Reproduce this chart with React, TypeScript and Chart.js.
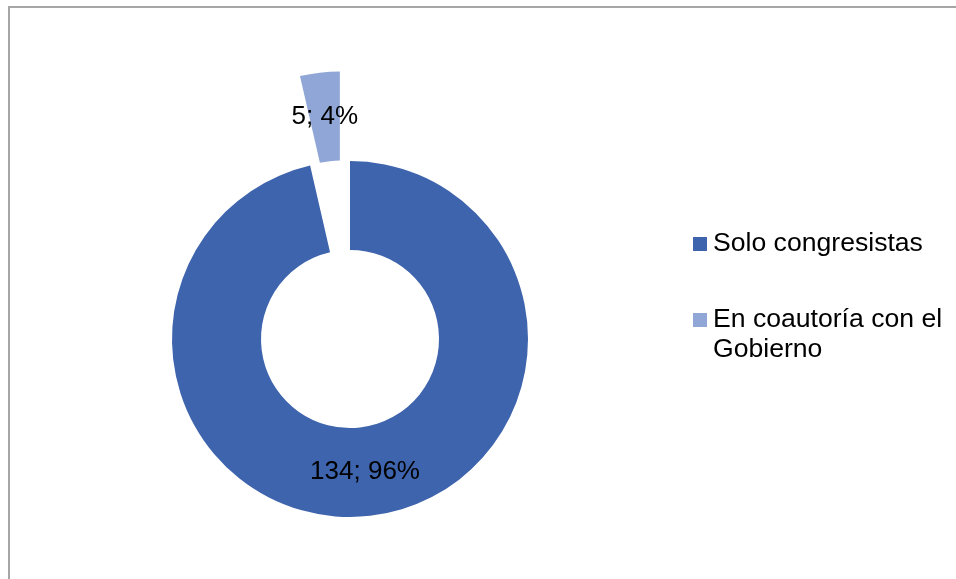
import React, { useEffect, useRef } from "react";
import { Chart, registerables } from "chart.js";

Chart.register(...registerables);

const categories = ["Solo congresistas", "En coautoría con el Gobierno"];
const values = [134, 5];
const colors = ["#3E64AD", "#8FA6D6"];
const explode = [0, 90];

const FONT = "'Liberation Sans', Arial, sans-serif";

const explodePlugin = {
  id: "explodeSlices",
  afterDatasetUpdate(chart: any, args: any) {
    const meta = args.meta;
    meta.data.forEach((el: any, i: number) => {
      const d = explode[i] || 0;
      if (!d) return;
      const mid = (el.startAngle + el.endAngle) / 2;
      el.x += Math.cos(mid) * d;
      el.y += Math.sin(mid) * d;
    });
  },
};

const labelPlugin = {
  id: "sliceLabels",
  afterDatasetsDraw(chart: any) {
    const ctx = chart.ctx;
    const meta = chart.getDatasetMeta(0);
    const data = chart.data.datasets[0].data as number[];
    const total = data.reduce((a, b) => a + b, 0);
    ctx.save();
    ctx.font = `26px ${FONT}`;
    ctx.fillStyle = "#000000";
    ctx.textAlign = "center";
    ctx.textBaseline = "middle";
    meta.data.forEach((el: any, i: number) => {
      const mid = (el.startAngle + el.endAngle) / 2;
      const r = (el.innerRadius + el.outerRadius) / 2;
      const x = el.x + Math.cos(mid) * r;
      const y = el.y + Math.sin(mid) * r;
      ctx.fillText(`${data[i]}; ${Math.round((data[i] / total) * 100)}%`, x, y);
    });
    ctx.restore();
  },
};

const legendPlugin = {
  id: "sideLegend",
  afterDraw(chart: any) {
    const ctx = chart.ctx;
    const labels = chart.data.labels as string[];
    const bg = chart.data.datasets[0].backgroundColor as string[];
    const boxX = 683;
    const textX = 703;
    const maxW = 238;
    const lineH = 30;
    const baselines = [243, 319];
    ctx.save();
    ctx.font = `26.6px ${FONT}`;
    ctx.textAlign = "left";
    ctx.textBaseline = "alphabetic";
    labels.forEach((label, i) => {
      const words = label.split(" ");
      const lines: string[] = [];
      let cur = "";
      words.forEach((w) => {
        const test = cur ? cur + " " + w : w;
        if (ctx.measureText(test).width > maxW && cur) {
          lines.push(cur);
          cur = w;
        } else {
          cur = test;
        }
      });
      if (cur) lines.push(cur);
      const base = baselines[i];
      ctx.fillStyle = bg[i];
      ctx.fillRect(boxX, base - 14, 14, 14);
      ctx.fillStyle = "#000000";
      lines.forEach((ln, j) => ctx.fillText(ln, textX, base + j * lineH));
    });
    ctx.restore();
  },
};

export default function App() {
  const ref = useRef<HTMLCanvasElement | null>(null);
  useEffect(() => {
    if (!ref.current) return;
    const chart = new Chart(ref.current, {
      type: "doughnut",
      data: {
        labels: categories,
        datasets: [
          {
            data: values,
            backgroundColor: colors,
            borderWidth: 0,
          },
        ],
      },
      options: {
        responsive: false,
        animation: false,
        events: [],
        cutout: "50%",
        layout: { padding: { top: 153, bottom: 62, left: 162, right: 428 } },
        plugins: {
          legend: { display: false },
          tooltip: { enabled: false },
          title: { display: false },
        },
      },
      plugins: [explodePlugin, labelPlugin, legendPlugin],
    });
    return () => chart.destroy();
  }, []);
  return (
    <div
      style={{
        position: "absolute",
        left: 8,
        top: 6,
        width: 948,
        height: 573,
        boxSizing: "border-box",
        borderLeft: "2px solid #A6A6A6",
        borderTop: "2px solid #A6A6A6",
        background: "#FFFFFF",
      }}
    >
      <canvas ref={ref} width={946} height={571} style={{ display: "block" }} />
    </div>
  );
}
